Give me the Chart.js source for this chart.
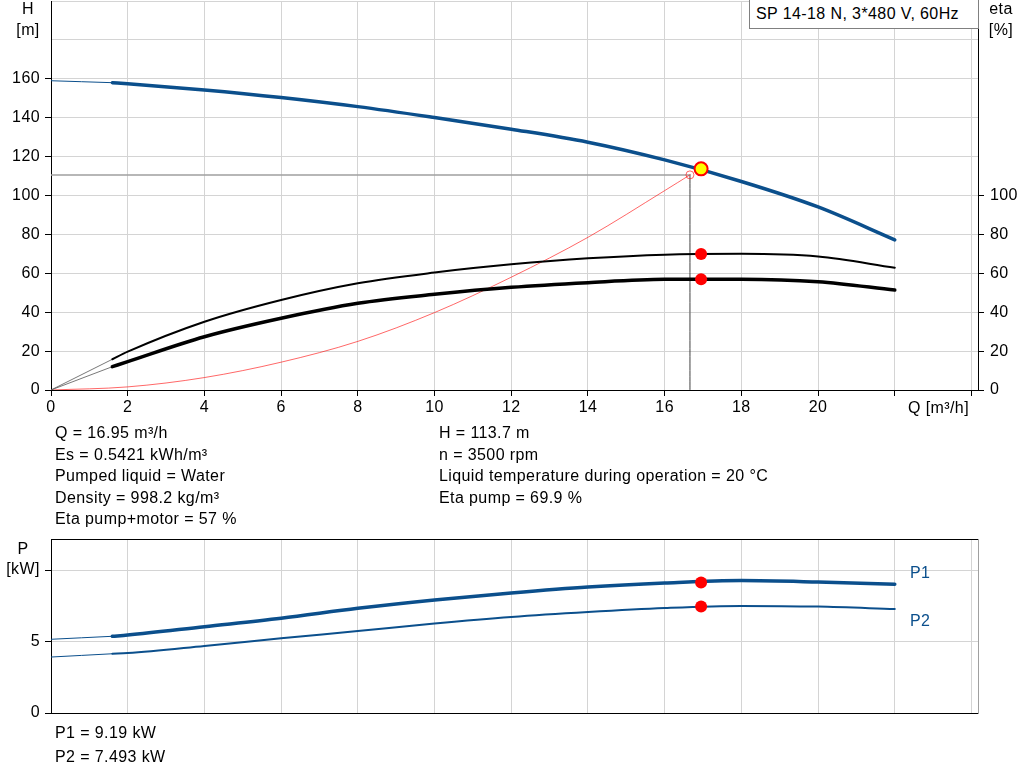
<!DOCTYPE html>
<html>
<head>
<meta charset="utf-8">
<script src="https://cdn.jsdelivr.net/npm/chart.js@4.4.1/dist/chart.umd.min.js"></script>
<style>
body { margin: 0; background: #fff; font-family: "Liberation Sans", Arial, sans-serif; font-size: 16px; letter-spacing: 0.4px; color: #000; }
#page { position: relative; width: 1024px; height: 781px; overflow: hidden; }
canvas { position: absolute; left: 0; }
.t { position: absolute; white-space: nowrap; line-height: 18px; }
.c { text-align: center; }
.blue { color: #0b4f8c; }
#legendBox { position: absolute; left: 749px; top: -1px; width: 222px; height: 28px; border: 1px solid #808080; background: #fff; line-height: 28px; padding-left: 6px; white-space: nowrap; }
</style>
</head>
<body>
<div id="page">
  <canvas id="qhChart" width="1024" height="425" style="top:0"></canvas>
  <canvas id="powerChart" width="1024" height="200" style="top:530px"></canvas>

  <div id="legendBox">SP 14-18 N, 3*480 V, 60Hz</div>
  <div class="t c" style="left:8px; top:0px; width:40px">H</div>
  <div class="t c" style="left:8px; top:21px; width:40px">[m]</div>
  <div class="t c" style="left:981px; top:0px; width:40px">eta</div>
  <div class="t c" style="left:981px; top:21px; width:40px">[%]</div>
  <div class="t" style="left:908px; top:399px">Q [m³/h]</div>

  <div class="t" style="left:55px; top:424px">Q = 16.95 m³/h</div>
  <div class="t" style="left:55px; top:446px">Es = 0.5421 kWh/m³</div>
  <div class="t" style="left:55px; top:467px">Pumped liquid = Water</div>
  <div class="t" style="left:55px; top:489px">Density = 998.2 kg/m³</div>
  <div class="t" style="left:55px; top:510px">Eta pump+motor = 57 %</div>
  <div class="t" style="left:439px; top:424px">H = 113.7 m</div>
  <div class="t" style="left:439px; top:446px">n = 3500 rpm</div>
  <div class="t" style="left:439px; top:467px">Liquid temperature during operation = 20 °C</div>
  <div class="t" style="left:439px; top:489px">Eta pump = 69.9 %</div>

  <div class="t c" style="left:3px; top:540px; width:40px">P</div>
  <div class="t c" style="left:3px; top:560px; width:40px">[kW]</div>
  <div class="t blue" style="left:910px; top:564px">P1</div>
  <div class="t blue" style="left:910px; top:612px">P2</div>
  <div class="t" style="left:55px; top:724px">P1 = 9.19 kW</div>
  <div class="t" style="left:55px; top:748px">P2 = 7.493 kW</div>
</div>
<script>
'use strict';

// Flow points of the pump curves (m3/h)
const flowQ = [1.6, 2, 4, 6, 8, 10, 12, 14, 16, 18, 20, 22];
const headH = [158, 157.5, 154.3, 150.4, 145.7, 140.1, 134.1, 127.4, 118.3, 107.2, 94.1, 77.2];
const etaPump = [15.8, 19.7, 35.1, 46.3, 54.9, 60.4, 64.6, 67.7, 69.6, 70.0, 68.6, 62.9];
const etaTotal = [12, 14.6, 27.4, 36.9, 44.6, 49.2, 52.8, 55.2, 56.9, 57.0, 55.7, 51.4];
const powerP1 = [5.4, 5.49, 6.08, 6.67, 7.37, 7.96, 8.45, 8.87, 9.15, 9.32, 9.22, 9.06];
const powerP2 = [4.17, 4.22, 4.72, 5.26, 5.77, 6.3, 6.76, 7.11, 7.39, 7.54, 7.49, 7.32];

// Thin extension from Q = 0 to the start of the curve
const startQ = [0, 1.6];
const headStart = [159, 158];
const etaPumpStart = [0, 15.8];
const etaTotalStart = [0, 12];
const p1Start = [5.19, 5.4];
const p2Start = [3.94, 4.17];

// System curve through the duty point
const systemQ = [0, 2, 4, 6, 8, 10, 12, 14, 16, 16.66];
const systemH = [0, 1.6, 6.4, 14.3, 25.0, 39.8, 58.0, 78.5, 102.5, 110.6];

// Duty point
const dutyQ = 16.95;
const dutyH = 113.7;
const dutyEtaPump = 69.9;
const dutyEtaTotal = 57;
const dutyP1 = 9.19;
const dutyP2 = 7.493;
const refQ = 16.66;
const refH = 110.6;

// Tick labels
const qTicks = [0, 2, 4, 6, 8, 10, 12, 14, 16, 18, 20, 22, 24];
const hTicks = [0, 20, 40, 60, 80, 100, 120, 140, 160, 180, 200];
const etaTicks = [0, 20, 40, 60, 80, 100];
const pTicks = [0, 5, 10];

const BLUE = '#0b4f8c';
const RED = '#ff0000';
const GRID = '#d4d4d4';
const FONT = { family: "'Liberation Sans', Arial, sans-serif", size: 16 };

Chart.defaults.font = FONT;
Chart.defaults.color = '#000';

function pts(xs, ys) {
    return xs.map((x, i) => ({ x: x, y: ys[i] }));
}

function setTicks(list) {
    return scale => { scale.ticks = list.map(v => ({ value: v })); };
}

// Fix the axis box size and drop the extra label padding
function fixWidth(w) {
    return s => { s.width = w; s.paddingTop = 0; s.paddingBottom = 0; };
}
function fixHeight(h) {
    return s => { s.height = h; s.paddingLeft = 0; s.paddingRight = 0; };
}

function curve(data, color, width, axis) {
    return {
        data: data, borderColor: color, borderWidth: width, pointRadius: 0,
        tension: 0.4, cubicInterpolationMode: 'monotone', yAxisID: axis || 'y', fill: false
    };
}

function marker(x, y, radius, fillColor, edgeColor, edgeWidth, axis) {
    return {
        data: [{ x: x, y: y }], showLine: false, pointRadius: radius,
        pointBackgroundColor: fillColor, pointBorderColor: edgeColor,
        pointBorderWidth: edgeWidth, yAxisID: axis || 'y'
    };
}

const commonOptions = {
    responsive: false,
    animation: false,
    devicePixelRatio: 1,
    plugins: { legend: { display: false }, tooltip: { enabled: false } },
    elements: { line: { borderCapStyle: 'round' } }
};

// Q-H and efficiency chart
new Chart(document.getElementById('qhChart'), {
    type: 'line',
    data: {
        datasets: [
            marker(dutyQ, dutyH, 6.5, '#ffff00', RED, 2),
            marker(dutyQ, dutyEtaPump, 6, RED, RED, 0, 'y2'),
            marker(dutyQ, dutyEtaTotal, 6, RED, RED, 0, 'y2'),
            marker(refQ, refH, 4, 'rgba(0,0,0,0)', 'rgba(255,0,0,0.6)', 1),
            curve(pts(flowQ, headH), BLUE, 3.5),
            curve(pts(startQ, headStart), BLUE, 1),
            curve(pts(flowQ, etaPump), '#000', 2, 'y2'),
            curve(pts(startQ, etaPumpStart), '#555', 0.8, 'y2'),
            curve(pts(flowQ, etaTotal), '#000', 3.5, 'y2'),
            curve(pts(startQ, etaTotalStart), '#555', 0.8, 'y2'),
            curve(pts(systemQ, systemH), 'rgba(255,0,0,0.75)', 0.8),
            curve(pts([0, refQ], [refH, refH]), '#a0a0a0', 1.5),
            curve(pts([refQ, refQ], [refH, 0]), '#404040', 1)
        ]
    },
    options: Object.assign({}, commonOptions, {
        layout: { autoPadding: false, padding: { top: 1, left: 0, right: 0, bottom: 0 } },
        scales: {
            x: {
                type: 'linear', min: 0, max: 24.17,
                afterBuildTicks: setTicks(qTicks),
                afterFit: fixHeight(35),
                ticks: { padding: 2, maxRotation: 0, callback: v => (v <= 20 ? v : '') },
                grid: { color: GRID, tickColor: '#000', tickLength: 6 },
                border: { color: '#000', width: 1 }
            },
            y: {
                type: 'linear', position: 'left', min: 0, max: 200,
                afterBuildTicks: setTicks(hTicks),
                afterFit: fixWidth(51),
                ticks: { padding: 5, callback: v => (v <= 160 ? v : '') },
                grid: {
                    color: GRID, tickLength: 6,
                    tickColor: c => (c.tick && c.tick.value > 160 ? 'rgba(0,0,0,0)' : '#000')
                },
                border: { color: '#000', width: 1 }
            },
            y2: {
                type: 'linear', position: 'right', min: 0, max: 200,
                afterBuildTicks: setTicks(etaTicks),
                afterFit: fixWidth(46),
                ticks: { padding: 6 },
                grid: { drawOnChartArea: false, tickColor: '#000', tickLength: 6 },
                border: { color: '#000', width: 1 }
            }
        }
    })
});

// Power chart
new Chart(document.getElementById('powerChart'), {
    type: 'line',
    data: {
        datasets: [
            marker(dutyQ, dutyP1, 6, RED, RED, 0),
            marker(dutyQ, dutyP2, 6, RED, RED, 0),
            curve(pts(flowQ, powerP1), BLUE, 3.5),
            curve(pts(startQ, p1Start), BLUE, 1),
            curve(pts(flowQ, powerP2), BLUE, 2),
            curve(pts(startQ, p2Start), BLUE, 1)
        ]
    },
    options: Object.assign({}, commonOptions, {
        layout: { autoPadding: false, padding: { top: 9, left: 0, right: 0, bottom: 0 } },
        scales: {
            x: {
                type: 'linear', min: 0, max: 24.17,
                afterBuildTicks: setTicks(qTicks),
                afterFit: fixHeight(17),
                ticks: { display: false },
                grid: { color: GRID, drawTicks: false },
                border: { color: '#000', width: 1 }
            },
            xTop: {
                type: 'linear', position: 'top', min: 0, max: 24.17,
                afterFit: fixHeight(0),
                ticks: { display: false },
                grid: { drawOnChartArea: false, drawTicks: false },
                border: { color: '#000', width: 1 }
            },
            y: {
                type: 'linear', position: 'left', min: 0, max: 12.25,
                afterBuildTicks: setTicks(pTicks),
                afterFit: fixWidth(51),
                ticks: { padding: 5, callback: v => (v < 10 ? v : '') },
                grid: { color: GRID, tickColor: '#000', tickLength: 6 },
                border: { color: '#000', width: 1 }
            },
            yRight: {
                type: 'linear', position: 'right', min: 0, max: 12.25,
                afterFit: fixWidth(46),
                ticks: { display: false },
                grid: { drawOnChartArea: false, drawTicks: false },
                border: { color: '#a0a0a0', width: 1 }
            }
        }
    })
});
</script>
</body>
</html>
